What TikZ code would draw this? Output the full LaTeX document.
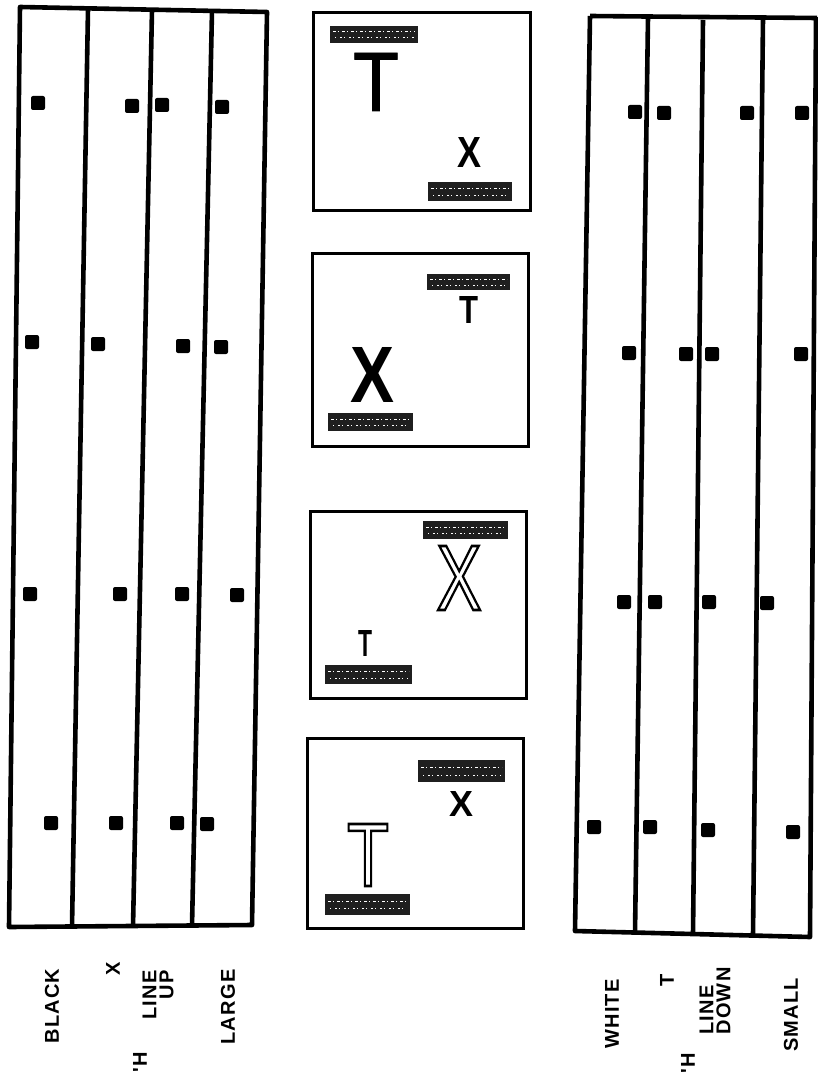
\documentclass[tikz,border=0pt]{standalone}
\usepackage{fontspec}
\usepackage{graphicx}
\setmainfont{Liberation Sans}
\newfontfamily\lblfont[LetterSpace=6]{Liberation Sans}

% letter stretched to a given width and height
\newcommand{\glyph}[3]{\resizebox{#1}{#2}{#3}}
% letter drawn as an outline only
\newcommand{\hollow}[3]{%
  \special{pdf:literal direct 1 Tr 2.4 w}%
  \glyph{#1}{#2}{\fontsize{80}{80}\selectfont #3}%
  \special{pdf:literal direct 0 Tr}}
% letter with a slightly thicker stroke
\newcommand{\heavy}[3]{%
  \special{pdf:literal direct 2 Tr 0.8 w}%
  \glyph{#1}{#2}{\fontsize{80}{80}\selectfont #3}%
  \special{pdf:literal direct 0 Tr}}

\begin{document}
\begin{tikzpicture}[x=1pt, y=-1pt,
	panel/.style={line width=4.6pt, line join=round},
	stim/.style={line width=3pt},
	sq/.style={rectangle, fill=black, rounded corners=2pt, minimum size=14pt, inner sep=0},
	patch/.style={fill=black!88},
	noise/.style={white, line width=1pt, dash pattern=on 3pt off 2pt on 1pt off 3pt},
	letter/.style={inner sep=0},
	lbl/.style={font=\lblfont\bfseries\fontsize{20}{17}\selectfont, rotate=90, inner sep=0}]
	\useasboundingbox (0,0) rectangle (817,1091);
	\fill[white] (0,0) rectangle (817,1091);

	% left board
	\draw[panel] (20,7) -- (267,12) -- (252,925) -- (9,927) -- cycle;
	\draw[panel] (88,9) -- (72,927);
	\draw[panel] (152,10) -- (133,927);
	\draw[panel] (212,11) -- (192,926);
	\foreach \x/\y [count=\i] in {38/103, 132/106, 162/105, 222/107,
		32/342, 98/344, 183/346, 221/347,
		30/594, 120/594, 182/594, 237/595,
		51/823, 116/823, 177/823, 207/824}
		\node[sq] (ls\i) at (\x,\y) {};

	% right board
	\draw[panel] (590,16) -- (817,18) (816,17) -- (810,937) -- (575,931) -- (590,16);
	\draw[panel] (648,17) -- (635,933);
	\draw[panel] (703,20) -- (693,934);
	\draw[panel] (763,18) -- (753,935);
	\foreach \x/\y [count=\i] in {635/112, 664/113, 747/113, 802/113,
		629/353, 686/354, 712/354, 801/354,
		624/602, 655/602, 709/602, 767/603,
		594/827, 650/827, 708/830, 793/832}
		\node[sq] (rs\i) at (\x,\y) {};

	% stimulus cards
	\draw[stim] (313,13) rectangle (530,211);
	\draw[stim] (312,253) rectangle (528,446);
	\draw[stim] (310,511) rectangle (526,698);
	\draw[stim] (307,738) rectangle (523,928);

	\foreach \xa/\ya/\xb/\yb in {330/26/418/43, 428/182/512/201,
		427/274/510/290, 328/413/413/431,
		423/521/508/539, 325/665/412/684,
		418/760/505/782, 325/894/410/915} {
		\fill[patch] (\xa,\ya) rectangle (\xb,\yb);
		\draw[noise] (\xa+3,{\ya+0.35*(\yb-\ya)}) -- (\xb-3,{\ya+0.35*(\yb-\ya)});
		\draw[noise, dash pattern=on 1pt off 4pt on 2pt off 2pt] (\xa+5,{\ya+0.7*(\yb-\ya)}) -- (\xb-4,{\ya+0.7*(\yb-\ya)});
	}

	\node[letter] (t1) at (376,82) {\heavy{46pt}{58pt}{T}};
	\node[letter] (x1) at (469,152) {\glyph{24pt}{30pt}{\bfseries X}};
	\node[letter] (t2) at (469,310) {\glyph{19pt}{27pt}{\bfseries T}};
	\node[letter] (x2) at (373,375) {\glyph{44pt}{55pt}{\bfseries X}};
	\node[letter] (x3) at (459,578) {\hollow{45pt}{64pt}{X}};
	\node[letter] (t3) at (365,643) {\glyph{14pt}{26pt}{\bfseries T}};
	\node[letter] (x4) at (461,804) {\glyph{24pt}{25pt}{\bfseries X}};
	\node[letter] (t4) at (368,855) {\hollow{42pt}{62pt}{T}};

	% captions
	\node[lbl] (black) at (52,1006) {BLACK};
	\node[lbl] (xl) at (113,969) {X};
	\node[lbl, align=right] (up) at (158,995) {LINE\\UP};
	\node[lbl] (large) at (228,1007) {LARGE};
	\node[lbl] (hl) at (140,1062) {'H};
	\node[lbl] (white) at (612,1014) {WHITE};
	\node[lbl] (tl) at (667,980) {T};
	\node[lbl, align=left] (down) at (715,1001) {LINE\\DOWN};
	\node[lbl] (small) at (791,1015) {SMALL};
	\node[lbl] (hr) at (688,1063) {'H};
\end{tikzpicture}
\end{document}
